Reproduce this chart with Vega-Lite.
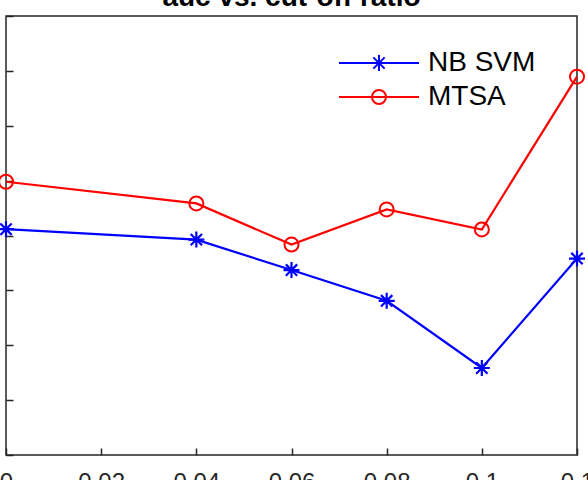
{
  "$schema": "https://vega.github.io/schema/vega-lite/v6.json",
  "width": 571,
  "height": 439,
  "autosize": {"type": "none"},
  "padding": {"left": 6, "top": 16, "right": 11, "bottom": 25},
  "background": "white",
  "title": {
    "text": "auc vs. cut-off ratio",
    "font": "Liberation Sans",
    "fontSize": 28,
    "fontWeight": "bold",
    "color": "#000000",
    "baseline": "alphabetic",
    "offset": -19,
    "frame": "group",
    "anchor": "middle"
  },
  "config": {
    "view": {"stroke": "#262626", "strokeWidth": 1.5},
    "axis": {
      "domain": false,
      "grid": false,
      "tickColor": "#262626",
      "tickWidth": 1.5,
      "tickSize": -7,
      "labelFont": "Liberation Sans",
      "labelFontSize": 24,
      "labelColor": "#262626"
    }
  },
  "data": {
    "values": [
      {"ratio": 0.00, "auc": 0.8423, "method": "NB SVM"},
      {"ratio": 0.04, "auc": 0.8385, "method": "NB SVM"},
      {"ratio": 0.06, "auc": 0.8274, "method": "NB SVM"},
      {"ratio": 0.08, "auc": 0.8162, "method": "NB SVM"},
      {"ratio": 0.10, "auc": 0.7917, "method": "NB SVM"},
      {"ratio": 0.12, "auc": 0.8316, "method": "NB SVM"},
      {"ratio": 0.00, "auc": 0.8596, "method": "MTSA"},
      {"ratio": 0.04, "auc": 0.8517, "method": "MTSA"},
      {"ratio": 0.06, "auc": 0.8367, "method": "MTSA"},
      {"ratio": 0.08, "auc": 0.8495, "method": "MTSA"},
      {"ratio": 0.10, "auc": 0.8422, "method": "MTSA"},
      {"ratio": 0.12, "auc": 0.8979, "method": "MTSA"}
    ]
  },
  "encoding": {
    "x": {
      "field": "ratio",
      "type": "quantitative",
      "scale": {"domain": [0, 0.12], "nice": false, "zero": false},
      "axis": {
        "title": null,
        "values": [0, 0.02, 0.04, 0.06, 0.08, 0.1, 0.12],
        "format": "~g",
        "labelPadding": 22,
        "labelFlush": false
      }
    },
    "y": {
      "field": "auc",
      "type": "quantitative",
      "scale": {"domain": [0.76, 0.92], "nice": false, "zero": false},
      "axis": {
        "title": null,
        "values": [0.76, 0.78, 0.8, 0.82, 0.84, 0.86, 0.88, 0.9, 0.92],
        "labels": false
      }
    },
    "color": {
      "field": "method",
      "type": "nominal",
      "scale": {"domain": ["NB SVM", "MTSA"], "range": ["#0000ff", "#ff0000"]},
      "legend": {
        "title": null,
        "orient": "none",
        "legendX": 332,
        "legendY": 33,
        "padding": 0,
        "symbolSize": 6400,
        "symbolStrokeWidth": 2,
        "labelFont": "Liberation Sans",
        "labelFontSize": 28,
        "labelColor": "#000000",
        "labelOffset": 8,
        "rowPadding": 6,
        "encode": {
          "symbols": {
            "update": {
              "shape": {"signal": "datum.value === 'NB SVM' ? 'M-1,0H1M0,-0.2V0.2M-0.2,0H0.2M-0.141,-0.141L0.141,0.141M-0.141,0.141L0.141,-0.141' : 'M-1,0H1M-0.175,0A0.175,0.175,0,1,0,0.175,0A0.175,0.175,0,1,0,-0.175,0'"},
              "fill": {"value": "transparent"},
              "stroke": {"signal": "scale('color', datum.value)"},
              "strokeWidth": {"value": 2},
              "y": {"value": 14}
            }
          },
          "labels": {
            "update": {
              "y": {"value": 14},
              "baseline": {"value": "middle"}
            }
          }
        }
      }
    }
  },
  "layer": [
    {
      "mark": {"type": "line", "strokeWidth": 2.2}
    },
    {
      "transform": [{"filter": "datum.method === 'NB SVM'"}],
      "mark": {
        "type": "point",
        "filled": false,
        "strokeWidth": 2.2,
        "opacity": 1,
        "size": 256,
        "shape": "M-1,0H1M0,-1V1M-0.71,-0.71L0.71,0.71M-0.71,0.71L0.71,-0.71"
      }
    },
    {
      "transform": [{"filter": "datum.method === 'MTSA'"}],
      "mark": {
        "type": "point",
        "filled": false,
        "strokeWidth": 2,
        "opacity": 1,
        "size": 196,
        "shape": "circle"
      }
    }
  ]
}
